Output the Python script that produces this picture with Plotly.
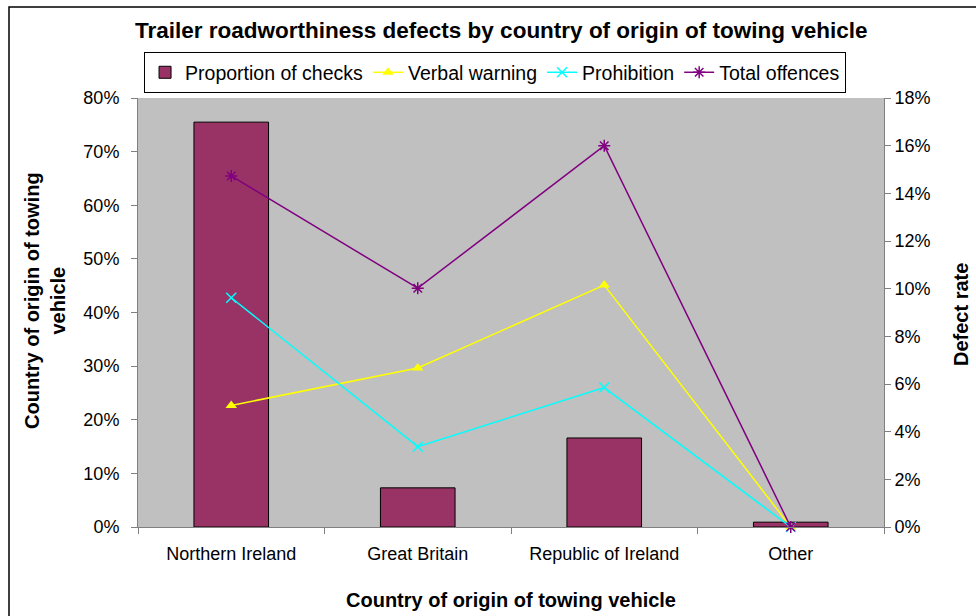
import plotly.graph_objects as go

categories = ["Northern Ireland", "Great Britain", "Republic of Ireland", "Other"]
proportion_of_checks = [0.755, 0.073, 0.166, 0.009]
verbal_warning = [0.051, 0.0667, 0.1015, 0.0]
prohibition = [0.0962, 0.0337, 0.0585, 0.0]
total_offences = [0.1473, 0.1002, 0.160, 0.0]

left_ticks = [0, 0.1, 0.2, 0.3, 0.4, 0.5, 0.6, 0.7, 0.8]
right_ticks = [0, 0.02, 0.04, 0.06, 0.08, 0.10, 0.12, 0.14, 0.16, 0.18]

FONT = "Liberation Sans, Arial, sans-serif"

fig = go.Figure()
fig.add_trace(go.Bar(
    x=categories, y=proportion_of_checks, name="Proportion of checks",
    marker=dict(color="#993366", line=dict(color="black", width=1)),
    width=0.4, yaxis="y",
))
fig.add_trace(go.Scatter(
    x=categories, y=verbal_warning, name="Verbal warning", mode="lines+markers",
    line=dict(color="#FFFF00", width=1.5),
    marker=dict(symbol="triangle-up", size=10, color="#FFFF00"),
    yaxis="y2", cliponaxis=False,
))
fig.add_trace(go.Scatter(
    x=categories, y=prohibition, name="Prohibition", mode="lines+markers",
    line=dict(color="#00FFFF", width=1.5),
    marker=dict(symbol="x-thin-open", size=10, color="#00FFFF", line=dict(color="#00FFFF", width=1.5)),
    yaxis="y2", cliponaxis=False,
))
fig.add_trace(go.Scatter(
    x=categories, y=total_offences, name="Total offences", mode="lines+markers",
    line=dict(color="#800080", width=1.5),
    marker=dict(symbol="asterisk-open", size=10, color="#800080", line=dict(color="#800080", width=1.5)),
    yaxis="y2", cliponaxis=False,
))

fig.update_layout(
    width=976, height=616,
    margin=dict(l=138, r=92, t=98, b=89),
    paper_bgcolor="white", plot_bgcolor="#C0C0C0",
    font=dict(family=FONT, size=18, color="black"),
    showlegend=True,
    legend=dict(orientation="h", x=0.4786, xanchor="center", y=1.107, yanchor="top",
                bordercolor="black", borderwidth=1, bgcolor="white",
                font=dict(size=19.5), traceorder="normal"),
    xaxis=dict(showgrid=False, showline=True, linecolor="#808080", linewidth=1,
               ticks="outside", tickson="boundaries", ticklen=6, tickcolor="#808080",
               tickfont=dict(size=18), ticklabelstandoff=10),
    yaxis=dict(range=[0, 0.8], tickvals=left_ticks, tickformat=".0%", showgrid=False,
               showline=True, linecolor="#808080", linewidth=1, ticks="outside",
               ticklen=6, tickcolor="#808080", tickfont=dict(size=18), zeroline=False,
               ticklabelstandoff=8),
    yaxis2=dict(range=[0, 0.18], tickvals=right_ticks, tickformat=".0%", overlaying="y",
                side="right", showgrid=False, showline=True, linecolor="#808080",
                linewidth=1, ticks="outside", ticklen=6, tickcolor="#808080",
                tickfont=dict(size=18), zeroline=False),
    bargap=0.6,
    annotations=[
        dict(text="<b>Trailer roadworthiness defects by country of origin of towing vehicle</b>",
             xref="paper", yref="paper", x=0.4866, y=(527 - 30) / 429, xanchor="center",
             yanchor="middle", showarrow=False, font=dict(size=22.5)),
        dict(text="<b>Country of origin of towing<br>vehicle</b>", xref="paper", yref="paper",
             x=(45 - 138) / 746, y=(527 - 301) / 429, textangle=-90, xanchor="center",
             yanchor="middle", showarrow=False, font=dict(size=20)),
        dict(text="<b>Defect rate</b>", xref="paper", yref="paper",
             x=(961 - 138) / 746, y=(527 - 315) / 429, textangle=-90, xanchor="center",
             yanchor="middle", showarrow=False, font=dict(size=20)),
        dict(text="<b>Country of origin of towing vehicle</b>", xref="paper", yref="paper",
             x=(511 - 138) / 746, y=(527 - 600) / 429, xanchor="center", yanchor="middle",
             showarrow=False, font=dict(size=20)),
    ],
    shapes=[
        dict(type="rect", xref="paper", yref="paper",
             x0=(9 - 138) / 746, x1=(995 - 138) / 746,
             y0=(527 - 640) / 429, y1=(527 - 7) / 429,
             line=dict(color="black", width=1.5), fillcolor="rgba(0,0,0,0)", layer="below"),
    ],
)

fig.write_html("out.html", config={"displayModeBar": False},
               post_script="document.body.style.margin='0';document.body.style.overflow='hidden';")
